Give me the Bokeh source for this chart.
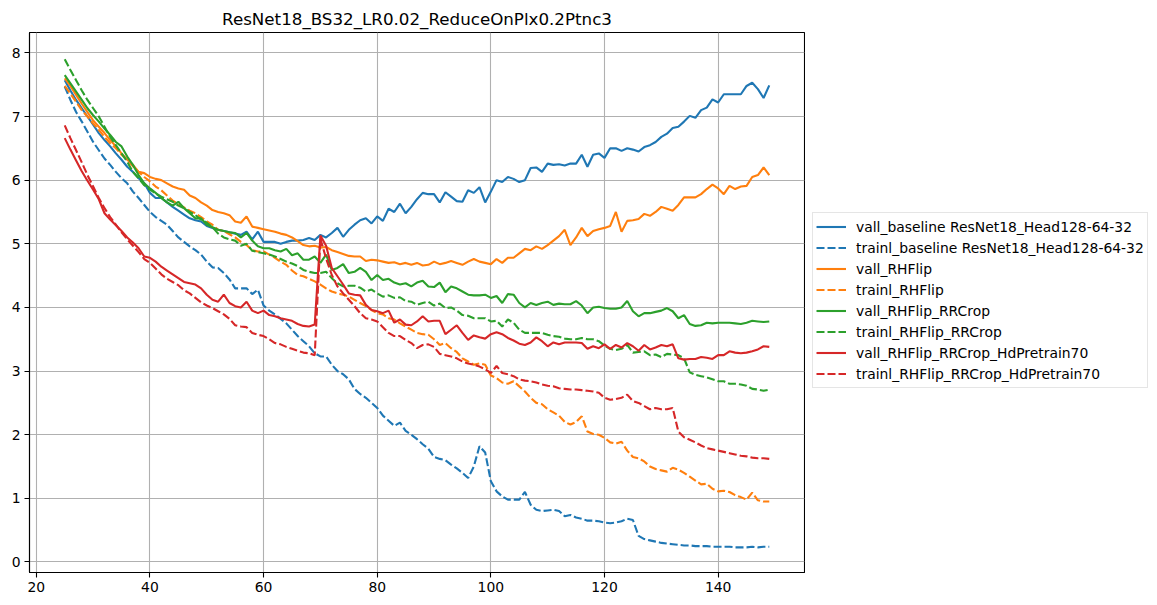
from bokeh.plotting import figure
from bokeh.layouts import row
from bokeh.models import Legend, LegendItem, FixedTicker, Range1d, ColumnDataSource
from bokeh.embed import file_html
from bokeh.resources import INLINE

epochs = list(range(25, 150))

vall_baseline = [7.57, 7.41, 7.26, 7.13, 7.0, 6.87, 6.74, 6.63, 6.53, 6.42, 6.32, 6.21, 6.13, 6.03, 5.95, 5.8, 5.72, 5.72, 5.65, 5.58,
                 5.52, 5.46, 5.4, 5.37, 5.35, 5.28, 5.25, 5.22, 5.2, 5.18, 5.16, 5.14, 5.19, 5.07, 5.19, 5.03, 5.03, 5.03, 5.0, 5.03,
                 5.05, 5.05, 5.06, 5.09, 5.06, 5.14, 5.1, 5.17, 5.25, 5.11, 5.22, 5.3, 5.37, 5.4, 5.32, 5.43, 5.36, 5.55, 5.5, 5.63,
                 5.48, 5.58, 5.7, 5.8, 5.78, 5.78, 5.65, 5.81, 5.74, 5.67, 5.66, 5.84, 5.8, 5.89, 5.65, 5.82, 6.0, 5.97, 6.05, 6.02,
                 5.97, 6.0, 6.19, 6.2, 6.13, 6.26, 6.24, 6.25, 6.23, 6.26, 6.26, 6.4, 6.21, 6.4, 6.42, 6.35, 6.5, 6.5, 6.46, 6.5,
                 6.48, 6.45, 6.52, 6.55, 6.6, 6.68, 6.73, 6.82, 6.84, 6.92, 7.01, 6.98, 7.1, 7.14, 7.27, 7.22, 7.35, 7.35, 7.35, 7.35,
                 7.48, 7.53, 7.43, 7.29, 7.49]

trainl_baseline = [7.47, 7.26, 7.07, 6.92, 6.76, 6.6, 6.47, 6.34, 6.24, 6.13, 6.03, 5.95, 5.82, 5.72, 5.61, 5.5, 5.42, 5.36, 5.3, 5.2,
                   5.1, 5.03, 4.96, 4.9, 4.83, 4.72, 4.63, 4.62, 4.54, 4.44, 4.3, 4.3, 4.3, 4.21, 4.28, 4.03, 3.95, 3.89, 3.82, 3.75,
                   3.65, 3.55, 3.47, 3.39, 3.28, 3.23, 3.23, 3.1, 3.0, 2.95, 2.87, 2.72, 2.64, 2.58, 2.5, 2.42, 2.3, 2.22, 2.14, 2.19,
                   2.06, 2.0, 1.93, 1.85, 1.78, 1.65, 1.62, 1.6, 1.53, 1.47, 1.4, 1.32, 1.5, 1.82, 1.72, 1.27, 1.11, 1.03, 0.98, 0.98,
                   0.98, 1.1, 0.9, 0.82, 0.8, 0.81, 0.82, 0.8, 0.72, 0.74, 0.7, 0.68, 0.65, 0.65, 0.64, 0.62, 0.61, 0.62, 0.64, 0.68,
                   0.66, 0.41, 0.36, 0.34, 0.32, 0.3, 0.29, 0.28, 0.27, 0.26, 0.26, 0.25, 0.25, 0.25, 0.24, 0.24, 0.24, 0.24, 0.23, 0.23,
                   0.23, 0.24, 0.23, 0.24, 0.24]

vall_rhflip = [7.6, 7.48, 7.34, 7.2, 7.07, 6.94, 6.84, 6.74, 6.63, 6.53, 6.42, 6.32, 6.24, 6.13, 6.11, 6.05, 6.02, 6.0, 5.95, 5.9,
               5.87, 5.85, 5.76, 5.72, 5.65, 5.6, 5.53, 5.5, 5.48, 5.45, 5.35, 5.33, 5.43, 5.27, 5.25, 5.23, 5.21, 5.19, 5.16, 5.14,
               5.1, 5.04, 4.98, 4.96, 4.97, 4.94, 4.95, 4.9, 4.87, 4.84, 4.81, 4.8, 4.8, 4.73, 4.75, 4.74, 4.72, 4.7, 4.71, 4.68,
               4.7, 4.67, 4.7, 4.66, 4.67, 4.72, 4.68, 4.7, 4.73, 4.7, 4.67, 4.72, 4.76, 4.72, 4.7, 4.68, 4.76, 4.7, 4.78, 4.78,
               4.85, 4.92, 4.9, 4.96, 4.92, 4.98, 5.05, 5.12, 5.22, 4.98, 5.1, 5.25, 5.12, 5.2, 5.23, 5.25, 5.28, 5.5, 5.19, 5.36,
               5.37, 5.39, 5.47, 5.44, 5.5, 5.58, 5.55, 5.52, 5.61, 5.73, 5.73, 5.73, 5.78, 5.86, 5.93, 5.87, 5.78, 5.91, 5.86, 5.9,
               5.91, 6.05, 6.08, 6.2, 6.08]

trainl_rhflip = [7.48, 7.36, 7.23, 7.1, 7.0, 6.89, 6.79, 6.68, 6.58, 6.5, 6.4, 6.32, 6.22, 6.13, 6.05, 5.98, 5.9, 5.84, 5.76, 5.68,
                 5.62, 5.57, 5.52, 5.48, 5.42, 5.35, 5.3, 5.22, 5.2, 5.15, 5.1, 5.03, 4.98, 4.9, 4.88, 4.88, 4.83, 4.78, 4.72, 4.67,
                 4.58, 4.51, 4.49, 4.45, 4.41, 4.36, 4.3, 4.25, 4.22, 4.2, 4.17, 4.12, 4.07, 4.02, 3.96, 3.91, 3.89, 3.83, 3.81, 3.75,
                 3.7, 3.65, 3.6, 3.58, 3.57, 3.5, 3.41, 3.44, 3.36, 3.3, 3.2, 3.15, 3.1, 3.12, 3.1, 2.93, 2.89, 2.82, 2.8, 2.84,
                 2.76, 2.68, 2.58, 2.5, 2.48, 2.4, 2.35, 2.3, 2.2, 2.16, 2.2, 2.29, 2.05, 2.01, 2.0, 1.95, 1.88, 1.86, 1.89, 1.75,
                 1.65, 1.63, 1.58, 1.5, 1.46, 1.44, 1.42, 1.48, 1.45, 1.4, 1.34, 1.28, 1.22, 1.23, 1.15, 1.11, 1.12, 1.1, 1.05, 1.02,
                 0.98, 1.09, 0.97, 0.95, 0.95]

vall_rhflip_rrcrop = [7.65, 7.52, 7.39, 7.26, 7.13, 7.02, 6.92, 6.81, 6.71, 6.6, 6.53, 6.37, 6.24, 6.08, 5.95, 5.87, 5.8, 5.72, 5.65, 5.6,
                      5.66, 5.56, 5.48, 5.4, 5.4, 5.3, 5.26, 5.22, 5.2, 5.18, 5.17, 5.1, 5.17, 5.05, 4.96, 4.93, 4.93, 4.9, 4.88, 4.92,
                      4.82, 4.85, 4.75, 4.75, 4.8, 4.7, 4.83, 4.59, 4.62, 4.68, 4.54, 4.56, 4.62, 4.56, 4.43, 4.51, 4.43, 4.45, 4.39, 4.36,
                      4.38, 4.33, 4.39, 4.42, 4.33, 4.32, 4.39, 4.24, 4.33, 4.3, 4.25, 4.2, 4.19, 4.19, 4.2, 4.15, 4.18, 4.07, 4.21, 4.2,
                      4.07, 4.0, 4.07, 4.04, 4.07, 4.09, 4.04, 4.06, 4.05, 4.05, 4.1, 4.03, 3.91, 4.0, 4.01, 3.99, 3.98, 3.98, 4.0, 4.1,
                      3.94, 3.86, 3.91, 3.91, 3.93, 3.95, 3.99, 3.94, 3.83, 3.88, 3.74, 3.71, 3.72, 3.76, 3.75, 3.76, 3.76, 3.76, 3.75, 3.74,
                      3.76, 3.79, 3.78, 3.77, 3.78]

trainl_rhflip_rrcrop = [7.9, 7.73, 7.57, 7.41, 7.26, 7.13, 7.0, 6.84, 6.68, 6.55, 6.42, 6.29, 6.13, 6.03, 5.92, 5.85, 5.79, 5.74, 5.7, 5.66,
                        5.6, 5.56, 5.5, 5.45, 5.38, 5.33, 5.26, 5.16, 5.1, 5.07, 5.05, 4.97, 5.0, 4.89, 4.87, 4.85, 4.83, 4.8, 4.76, 4.72,
                        4.69, 4.65, 4.59, 4.56, 4.54, 4.54, 4.56, 4.46, 4.38, 4.33, 4.34, 4.34, 4.31, 4.25, 4.28, 4.22, 4.17, 4.19, 4.15, 4.16,
                        4.1, 4.09, 4.04, 4.07, 4.09, 4.03, 4.06, 3.99, 4.0, 3.95, 3.88, 3.87, 3.83, 3.83, 3.83, 3.78, 3.79, 3.7, 3.81, 3.76,
                        3.65, 3.6, 3.6, 3.6, 3.6, 3.57, 3.55, 3.54, 3.51, 3.5, 3.5, 3.52, 3.5, 3.5, 3.47, 3.4, 3.35, 3.33, 3.35, 3.41,
                        3.29, 3.3, 3.31, 3.25, 3.26, 3.22, 3.27, 3.26, 3.25, 3.2, 2.98, 2.94, 2.92, 2.9, 2.87, 2.84, 2.84, 2.8, 2.8, 2.79,
                        2.77, 2.72, 2.71, 2.69, 2.71]

vall_hdpretrain70 = [6.66, 6.48, 6.31, 6.14, 5.99, 5.85, 5.7, 5.48, 5.38, 5.29, 5.2, 5.1, 5.02, 4.93, 4.8, 4.78, 4.72, 4.64, 4.58, 4.52,
                     4.46, 4.4, 4.38, 4.36, 4.3, 4.2, 4.12, 4.09, 4.2, 4.07, 4.02, 4.0, 4.09, 3.95, 3.91, 3.95, 3.88, 3.86, 3.83, 3.81,
                     3.79, 3.74, 3.71, 3.7, 3.73, 5.13, 4.97, 4.62, 4.49, 4.36, 4.22, 4.2, 4.19, 4.04, 3.96, 3.94, 3.91, 3.95, 3.76, 3.81,
                     3.73, 3.72, 3.78, 3.86, 3.78, 3.79, 3.79, 3.58, 3.65, 3.72, 3.6, 3.49, 3.56, 3.53, 3.51, 3.58, 3.61, 3.58, 3.52, 3.48,
                     3.43, 3.41, 3.45, 3.53, 3.47, 3.39, 3.45, 3.42, 3.45, 3.45, 3.45, 3.44, 3.35, 3.39, 3.36, 3.42, 3.35, 3.41, 3.37, 3.44,
                     3.39, 3.32, 3.41, 3.34, 3.37, 3.41, 3.39, 3.42, 3.2, 3.18, 3.19, 3.19, 3.22, 3.21, 3.19, 3.25, 3.25, 3.31, 3.29, 3.28,
                     3.29, 3.31, 3.34, 3.39, 3.38]

trainl_hdpretrain70 = [6.86, 6.66, 6.47, 6.28, 6.08, 5.9, 5.72, 5.56, 5.42, 5.3, 5.18, 5.07, 4.97, 4.87, 4.76, 4.7, 4.61, 4.52, 4.45, 4.4,
                       4.35, 4.27, 4.22, 4.15, 4.08, 4.03, 3.99, 3.94, 3.89, 3.82, 3.72, 3.7, 3.69, 3.6, 3.57, 3.55, 3.5, 3.44, 3.42, 3.38,
                       3.35, 3.32, 3.29, 3.28, 3.25, 5.08, 4.77, 4.51, 4.33, 4.22, 4.12, 4.02, 3.91, 3.83, 3.81, 3.78, 3.69, 3.6, 3.55, 3.55,
                       3.49, 3.44, 3.36, 3.41, 3.42, 3.38, 3.27, 3.25, 3.23, 3.2, 3.15, 3.12, 3.1, 3.07, 3.03, 2.97, 3.08, 2.97, 2.95, 2.92,
                       2.87, 2.85, 2.84, 2.82, 2.79, 2.77, 2.76, 2.73, 2.72, 2.71, 2.71, 2.7, 2.69, 2.68, 2.66, 2.58, 2.55, 2.56, 2.58, 2.63,
                       2.53, 2.5, 2.45, 2.4, 2.42, 2.4, 2.4, 2.42, 2.05, 1.96, 1.92, 1.88, 1.83, 1.79, 1.77, 1.75, 1.73, 1.71, 1.69, 1.67,
                       1.66, 1.64, 1.63, 1.63, 1.62]

series = [
    ("vall_baseline ResNet18_Head128-64-32", vall_baseline, "#1f77b4", "solid"),
    ("trainl_baseline ResNet18_Head128-64-32", trainl_baseline, "#1f77b4", "dashed"),
    ("vall_RHFlip", vall_rhflip, "#ff7f0e", "solid"),
    ("trainl_RHFlip", trainl_rhflip, "#ff7f0e", "dashed"),
    ("vall_RHFlip_RRCrop", vall_rhflip_rrcrop, "#2ca02c", "solid"),
    ("trainl_RHFlip_RRCrop", trainl_rhflip_rrcrop, "#2ca02c", "dashed"),
    ("vall_RHFlip_RRCrop_HdPretrain70", vall_hdpretrain70, "#d62728", "solid"),
    ("trainl_RHFlip_RRCrop_HdPretrain70", trainl_hdpretrain70, "#d62728", "dashed"),
]

title_text = "ResNet18_BS32_LR0.02_ReduceOnPlx0.2Ptnc3"
x_ticks = [20, 40, 60, 80, 100, 120, 140]
y_ticks = [0, 1, 2, 3, 4, 5, 6, 7, 8]

FONT = "DejaVu Sans"
DASH = "8 3"

# ---- main plot ----
p = figure(width=805, height=605, output_backend="svg", toolbar_location=None,
           x_range=Range1d(18.8, 155.2), y_range=Range1d(-0.165, 8.32),
           min_border_left=29, min_border_top=32, min_border_bottom=33, min_border_right=1)

p.title.text = title_text
p.title.align = "center"
p.title.text_font = FONT
p.title.text_font_size = "16.7px"
p.title.text_font_style = "normal"
p.title.text_color = "black"
p.title.standoff = 7

p.outline_line_color = "black"
p.outline_line_width = 1.1
p.background_fill_color = "white"
p.border_fill_color = "white"

for ax in (p.xaxis[0], p.yaxis[0]):
    ax.axis_line_color = "black"
    ax.axis_line_width = 1.1
    ax.major_tick_line_color = "black"
    ax.major_tick_line_width = 1.1
    ax.major_tick_out = 5
    ax.major_tick_in = 0
    ax.minor_tick_line_color = None
    ax.major_label_text_font = FONT
    ax.major_label_text_font_size = "13.9px"
    ax.major_label_text_color = "black"
    ax.major_label_standoff = 4

p.xaxis[0].ticker = FixedTicker(ticks=x_ticks)
p.yaxis[0].ticker = FixedTicker(ticks=y_ticks)

p.xgrid.ticker = FixedTicker(ticks=x_ticks)
p.ygrid.ticker = FixedTicker(ticks=y_ticks)
for g in (p.xgrid[0], p.ygrid[0]):
    g.grid_line_color = "#b0b0b0"
    g.grid_line_width = 1.1

sources = []
for name, vals, color, style in series:
    src = ColumnDataSource(dict(x=epochs, y=vals))
    sources.append(src)
    dash = "solid" if style == "solid" else DASH
    p.line("x", "y", source=src, line_color=color, line_width=2.1, line_dash=dash)

# ---- legend panel (separate figure to the right; its view range excludes the data) ----
q = figure(width=352, height=605, output_backend="svg", toolbar_location=None,
           x_range=Range1d(-10, -9), y_range=Range1d(-10, -9),
           x_axis_type=None, y_axis_type=None,
           min_border_left=0, min_border_right=0, min_border_top=0, min_border_bottom=0)
q.outline_line_color = None
q.xgrid.visible = False
q.ygrid.visible = False
q.background_fill_color = "white"
q.border_fill_color = "white"

items = []
for (name, vals, color, style), src in zip(series, sources):
    dash = "solid" if style == "solid" else DASH
    r = q.line("x", "y", source=src, line_color=color, line_width=2.1, line_dash=dash)
    items.append(LegendItem(label=name, renderers=[r]))

legend = Legend(items=items, location=(7, 184))
legend.label_text_font = FONT
legend.label_text_font_size = "13.9px"
legend.label_text_color = "black"
legend.glyph_width = 30
legend.glyph_height = 21
legend.label_height = 21
legend.label_standoff = 10
legend.spacing = 0
legend.padding = 3
legend.margin = 0
legend.border_line_color = "#cccccc"
legend.border_line_width = 1
legend.background_fill_alpha = 0.8
q.add_layout(legend, "center")

layout = row(p, q)
open("out.html", "w").write(file_html(layout, INLINE))
